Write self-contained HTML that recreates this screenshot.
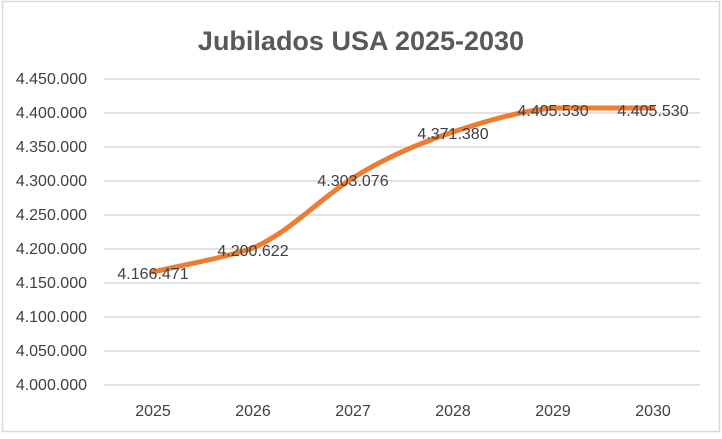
<!DOCTYPE html>
<html><head><meta charset="utf-8"><style>
body{margin:0;background:#fff}
svg text{font-family:"Liberation Sans","DejaVu Sans",sans-serif}
</style></head><body>
<svg width="722" height="434" viewBox="0 0 722 434" xmlns="http://www.w3.org/2000/svg">
<rect x="2.5" y="1.5" width="717" height="430" fill="#fff" stroke="#d9d9d9" stroke-width="1.5"/>
<text x="361" y="50" text-anchor="middle" font-size="27" font-weight="bold" fill="#595959">Jubilados USA 2025-2030</text>
<g stroke="#d9d9d9" stroke-width="1.5">
<line x1="104" x2="700" y1="79" y2="79"/><line x1="104" x2="700" y1="113" y2="113"/>
<line x1="104" x2="700" y1="147" y2="147"/><line x1="104" x2="700" y1="181" y2="181"/>
<line x1="104" x2="700" y1="215" y2="215"/><line x1="104" x2="700" y1="249" y2="249"/>
<line x1="104" x2="700" y1="283" y2="283"/><line x1="104" x2="700" y1="317" y2="317"/>
<line x1="104" x2="700" y1="351" y2="351"/><line x1="104" x2="700" y1="385" y2="385"/>
</g>
<g font-size="16" fill="#404040" text-anchor="end">
<text x="87" y="84">4.450.000</text><text x="87" y="118">4.400.000</text>
<text x="87" y="152">4.350.000</text><text x="87" y="186">4.300.000</text>
<text x="87" y="220">4.250.000</text><text x="87" y="254">4.200.000</text>
<text x="87" y="288">4.150.000</text><text x="87" y="322">4.100.000</text>
<text x="87" y="356">4.050.000</text><text x="87" y="390">4.000.000</text>
</g>
<g font-size="16" fill="#404040" text-anchor="middle">
<text x="153" y="416">2025</text><text x="253" y="416">2026</text><text x="353" y="416">2027</text>
<text x="453" y="416">2028</text><text x="553" y="416">2029</text><text x="653" y="416">2030</text>
</g>
<path d="M153,272 C186,264 220,259 253,248 C290,232 318,200 353,178 C386,157 420,143 453,132 C486,121 520,111 553,108 L653,108" fill="none" stroke="#ed7d31" stroke-width="5" stroke-linecap="round" stroke-linejoin="round"/>
<g font-size="16" fill="#404040" text-anchor="middle">
<text x="153" y="279">4.166.471</text><text x="253" y="256">4.200.622</text>
<text x="353" y="186">4.303.076</text><text x="453" y="139">4.371.380</text>
<text x="553" y="116">4.405.530</text><text x="653" y="116">4.405.530</text>
</g>
</svg>
</body></html>
